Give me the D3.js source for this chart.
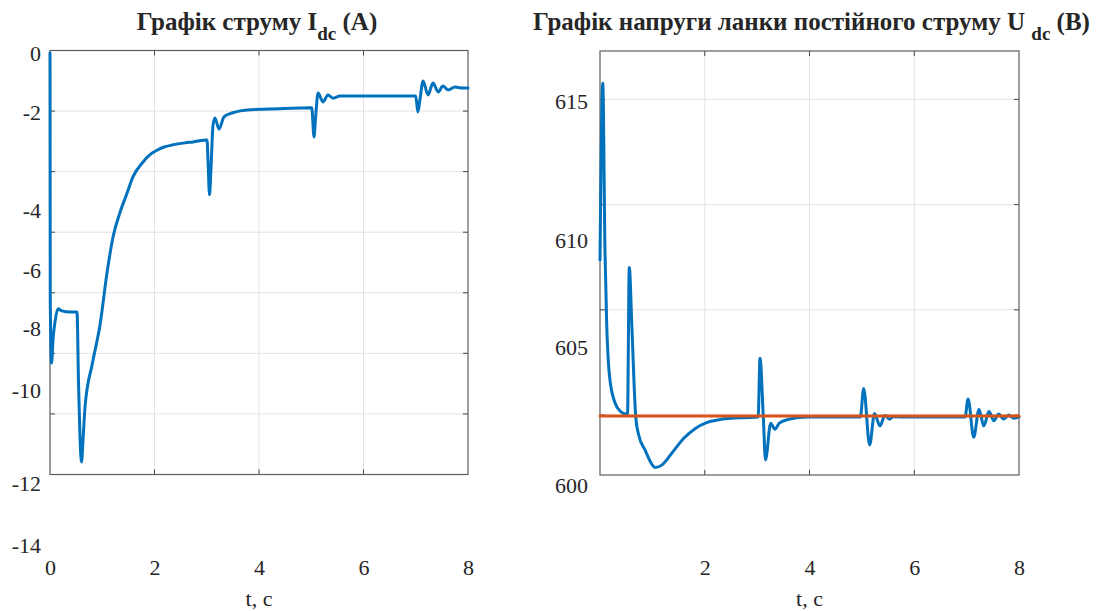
<!DOCTYPE html>
<html>
<head>
<meta charset="utf-8">
<script src="https://cdn.jsdelivr.net/npm/d3@7"></script>
<style>
  html, body { margin: 0; padding: 0; background: #fff; }
  svg { display: block; }
  svg text { font-family: "Liberation Serif", "Times New Roman", "DejaVu Serif", serif !important; fill: #262626; }
</style>
</head>
<body>
<svg id="chart" width="1105" height="611" font-family="Liberation Serif, serif"></svg>
<script>
// ---------- DATA ----------
const xTicks = [0, 2, 4, 6, 8];
const xTicksRight = [2, 4, 6, 8];

const currentYTicks = [0, -2, -4, -6, -8, -10, -12, -14];
const currentTime = [0, 0.005, 0.03, 0.057, 0.096, 0.153, 0.23, 0.38, 0.517, 0.545, 0.603, 0.632, 0.67, 0.813, 0.957,
  1.091, 1.206, 1.34, 1.474, 1.589, 1.78, 1.914, 2.048, 2.2, 2.354, 2.584, 2.737, 3.005, 3.024, 3.053, 3.08, 3.12, 3.158, 3.234, 3.33,
  3.483, 3.828, 4.21, 5.01, 5.053, 5.08, 5.13, 5.225, 5.32, 5.416, 5.55, 5.93, 7.0, 7.04, 7.08, 7.14, 7.235, 7.33,
  7.43, 7.52, 7.62, 7.75, 7.89, 8.0];
const currentValues = [0, -7.03, -9.13, -8.39, -7.79, -7.34, -7.41, -7.45, -7.45, -9.68, -11.55, -11.08, -10.37, -9.13, -7.9,
  -6.10, -4.9, -4.08, -3.66, -3.32, -3.02, -2.87, -2.78, -2.71, -2.67, -2.63, -2.61, -2.57, -2.98, -3.69, -3.18, -2.27, -2.12, -2.35, -2.10,
  -2.02, -1.92, -1.90, -1.86, -2.51, -2.16, -1.36, -1.66, -1.42, -1.53, -1.46, -1.46, -1.46, -2.0, -1.59, -0.95, -1.42, -1.02,
  -1.32, -1.12, -1.25, -1.15, -1.19, -1.19];

const voltageYTicks = [615, 610, 605, 600];
const voltageTime = [0, 0.053, 0.095, 0.126, 0.183, 0.288, 0.395, 0.502, 0.525, 0.559, 0.611, 0.682, 0.739, 0.859, 1.002,
  1.05, 1.18, 1.394, 1.604, 1.821, 2.035, 2.32, 2.747, 3.02, 3.055, 3.118, 3.16, 3.259, 3.339, 3.423, 3.603, 3.958,
  4.97, 5.035, 5.148, 5.241, 5.346, 5.442, 5.526, 5.596, 5.953, 6.969, 7.028, 7.135, 7.236, 7.328, 7.427, 7.521,
  7.612, 7.706, 7.805, 7.891, 8.0];
const voltageValues = [609.07, 615.67, 609.53, 606.26, 603.92, 602.97, 602.66, 602.57, 602.57, 608.72, 605.79, 602.47, 601.81, 601.27, 600.72,
  600.63, 600.72, 601.21, 601.70, 602.05, 602.26, 602.38, 602.44, 602.46, 604.59, 602.46, 600.91, 602.24, 602.02, 602.24, 602.38, 602.46,
  602.46, 603.50, 601.45, 602.59, 602.14, 602.53, 602.38, 602.47, 602.46, 602.46, 603.12, 601.73, 602.74, 602.14, 602.66, 602.33,
  602.57, 602.39, 602.54, 602.42, 602.47];

const refTime = [0, 8];
const refValues = [602.5, 602.5];

// ---------- DRAW ----------
const svg = d3.select("#chart");
const BLUE = "#0072BD", ORANGE = "#D95319";
const FONT = '"Liberation Serif", "Times New Roman", serif';

function panel(opt) {
  const g = svg.append("g");
  const x = d3.scaleLinear().domain([0, 8]).range([opt.left, opt.right]);
  const frame = d3.scaleLinear().domain(opt.frameDomain).range([opt.bottom, opt.top]);
  const lab = d3.scaleLinear().domain(opt.yTicks).range(opt.labelRange);

  // grid
  const gx = [2, 4, 6];
  g.selectAll(".gx").data(gx).join("line")
    .attr("x1", d => x(d)).attr("x2", d => x(d))
    .attr("y1", opt.top).attr("y2", opt.bottom)
    .attr("stroke", "#e3e3e3").attr("stroke-width", 1);
  const gy = frame.ticks(opt.frameTickCount).filter(d => frame(d) > opt.top + 1 && frame(d) < opt.bottom - 1);
  g.selectAll(".gy").data(gy).join("line")
    .attr("x1", opt.left).attr("x2", opt.right)
    .attr("y1", d => frame(d)).attr("y2", d => frame(d))
    .attr("stroke", "#e3e3e3").attr("stroke-width", 1);

  // inward ticks
  const tl = 5;
  gy.forEach(d => {
    g.append("line").attr("x1", opt.left).attr("x2", opt.left + tl).attr("y1", frame(d)).attr("y2", frame(d)).attr("stroke", "#444");
    g.append("line").attr("x1", opt.right).attr("x2", opt.right - tl).attr("y1", frame(d)).attr("y2", frame(d)).attr("stroke", "#444");
  });
  gx.forEach(d => {
    g.append("line").attr("x1", x(d)).attr("x2", x(d)).attr("y1", opt.bottom).attr("y2", opt.bottom - tl).attr("stroke", "#444");
    g.append("line").attr("x1", x(d)).attr("x2", x(d)).attr("y1", opt.top).attr("y2", opt.top + tl).attr("stroke", "#444");
  });

  // frame box
  g.append("rect").attr("x", opt.left).attr("y", opt.top)
    .attr("width", opt.right - opt.left).attr("height", opt.bottom - opt.top)
    .attr("fill", "none").attr("stroke", "#5e5e5e").attr("stroke-width", 1.2);

  // series
  const line = d3.line().x(d => x(d[0])).y(d => lab(d[1])).curve(d3.curveMonotoneX);
  opt.series.forEach(s => {
    g.append("path").datum(d3.zip(s.t, s.v)).attr("d", line)
      .attr("fill", "none").attr("stroke", s.color).attr("stroke-width", 3)
      .attr("stroke-linejoin", "round").attr("stroke-linecap", "round");
  });

  // y labels (hyphen-minus like the reference)
  const ya = g.append("g").attr("transform", `translate(${opt.left},0)`)
    .call(d3.axisLeft(lab).tickValues(opt.yTicks).tickSize(0).tickPadding(opt.left - opt.labelRight)
      .tickFormat(d => String(d)));
  ya.attr("font-family", FONT).attr("font-size", 22);
  ya.select(".domain").remove();
  ya.selectAll("text").attr("fill", "#262626");

  // x labels
  const xa = g.append("g").attr("transform", "translate(0,559.5)")
    .call(d3.axisBottom(x).tickValues(opt.xTicks).tickSize(0).tickPadding(0).tickFormat(d => String(d)));
  xa.attr("font-family", FONT).attr("font-size", 22);
  xa.select(".domain").remove();
  xa.selectAll("text").attr("fill", "#262626");

  // x title
  g.append("text").attr("x", (opt.left + opt.right) / 2).attr("y", 606)
    .attr("text-anchor", "middle").attr("font-size", 22).text("t, c");

  // title
  const t = g.append("text").attr("x", (opt.left + opt.right) / 2 + opt.titleShift).attr("y", 30)
    .attr("text-anchor", "middle").attr("font-size", 25).attr("font-weight", "bold").attr("fill", "#000");
  t.append("tspan").text(opt.title[0]);
  t.append("tspan").attr("font-size", 19).attr("dy", 10).text(opt.title[1]);
  t.append("tspan").attr("dy", -10).text(opt.title[2]);
}

panel({
  left: 50, right: 468, top: 50.5, bottom: 474.5,
  frameDomain: [-14, 0], frameTickCount: 7,
  yTicks: currentYTicks, labelRange: [53, 112, 210, 270, 328, 390, 483, 545], labelRight: 41,
  xTicks: xTicks, titleShift: -2,
  title: ["Графік струму I", "dc", " (A)"],
  series: [{ t: currentTime, v: currentValues, color: BLUE }]
});

panel({
  left: 600, right: 1019, top: 51, bottom: 475,
  frameDomain: [597.15, 617.3], frameTickCount: 4,
  yTicks: voltageYTicks, labelRange: [101.7, 240, 347, 485], labelRight: 588,
  xTicks: xTicksRight, titleShift: 2,
  title: ["Графік напруги ланки постійного струму U ", "dc", " (B)"],
  series: [{ t: voltageTime, v: voltageValues, color: BLUE }, { t: refTime, v: refValues, color: ORANGE }]
});
</script>
</body>
</html>
